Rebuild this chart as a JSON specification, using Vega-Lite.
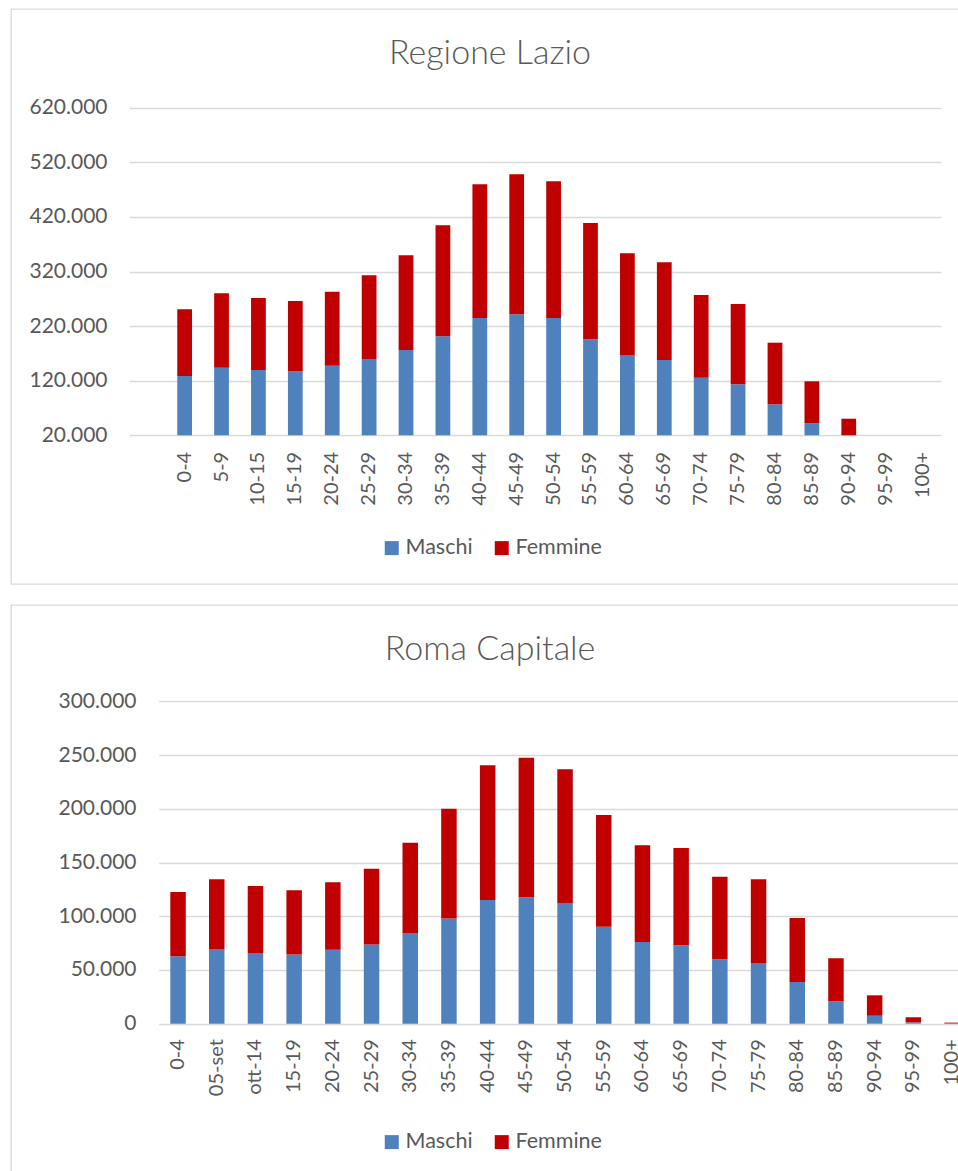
{
  "$schema": "https://vega.github.io/schema/vega-lite/v6.json",
  "padding": {"left": 10, "top": 8, "right": 0, "bottom": 0},
  "background": "white",
  "spacing": 19,
  "datasets": {
    "lazio": [
      {"eta": "0-4", "sesso": "Maschi", "n": 128600}, {"eta": "0-4", "sesso": "Femmine", "n": 122200},
      {"eta": "5-9", "sesso": "Maschi", "n": 143800}, {"eta": "5-9", "sesso": "Femmine", "n": 136300},
      {"eta": "10-15", "sesso": "Maschi", "n": 139600}, {"eta": "10-15", "sesso": "Femmine", "n": 131900},
      {"eta": "15-19", "sesso": "Maschi", "n": 137200}, {"eta": "15-19", "sesso": "Femmine", "n": 128800},
      {"eta": "20-24", "sesso": "Maschi", "n": 147500}, {"eta": "20-24", "sesso": "Femmine", "n": 135500},
      {"eta": "25-29", "sesso": "Maschi", "n": 159700}, {"eta": "25-29", "sesso": "Femmine", "n": 153300},
      {"eta": "30-34", "sesso": "Maschi", "n": 176200}, {"eta": "30-34", "sesso": "Femmine", "n": 173500},
      {"eta": "35-39", "sesso": "Maschi", "n": 201300}, {"eta": "35-39", "sesso": "Femmine", "n": 203300},
      {"eta": "40-44", "sesso": "Maschi", "n": 234800}, {"eta": "40-44", "sesso": "Femmine", "n": 244900},
      {"eta": "45-49", "sesso": "Maschi", "n": 241600}, {"eta": "45-49", "sesso": "Femmine", "n": 256400},
      {"eta": "50-54", "sesso": "Maschi", "n": 234800}, {"eta": "50-54", "sesso": "Femmine", "n": 250400},
      {"eta": "55-59", "sesso": "Maschi", "n": 195800}, {"eta": "55-59", "sesso": "Femmine", "n": 213000},
      {"eta": "60-64", "sesso": "Maschi", "n": 167100}, {"eta": "60-64", "sesso": "Femmine", "n": 186200},
      {"eta": "65-69", "sesso": "Maschi", "n": 157900}, {"eta": "65-69", "sesso": "Femmine", "n": 178900},
      {"eta": "70-74", "sesso": "Maschi", "n": 125500}, {"eta": "70-74", "sesso": "Femmine", "n": 151500},
      {"eta": "75-79", "sesso": "Maschi", "n": 113400}, {"eta": "75-79", "sesso": "Femmine", "n": 147100},
      {"eta": "80-84", "sesso": "Maschi", "n": 76800}, {"eta": "80-84", "sesso": "Femmine", "n": 112800},
      {"eta": "85-89", "sesso": "Maschi", "n": 42000}, {"eta": "85-89", "sesso": "Femmine", "n": 76900},
      {"eta": "90-94", "sesso": "Maschi", "n": 12000}, {"eta": "90-94", "sesso": "Femmine", "n": 38400},
      {"eta": "95-99", "sesso": "Maschi", "n": 2000}, {"eta": "95-99", "sesso": "Femmine", "n": 7000},
      {"eta": "100+", "sesso": "Maschi", "n": 300}, {"eta": "100+", "sesso": "Femmine", "n": 1200}
    ],
    "roma": [
      {"eta": "0-4", "sesso": "Maschi", "n": 62700}, {"eta": "0-4", "sesso": "Femmine", "n": 59800},
      {"eta": "05-set", "sesso": "Maschi", "n": 69500}, {"eta": "05-set", "sesso": "Femmine", "n": 64900},
      {"eta": "ott-14", "sesso": "Maschi", "n": 65800}, {"eta": "ott-14", "sesso": "Femmine", "n": 62300},
      {"eta": "15-19", "sesso": "Maschi", "n": 64500}, {"eta": "15-19", "sesso": "Femmine", "n": 59600},
      {"eta": "20-24", "sesso": "Maschi", "n": 68900}, {"eta": "20-24", "sesso": "Femmine", "n": 62700},
      {"eta": "25-29", "sesso": "Maschi", "n": 73800}, {"eta": "25-29", "sesso": "Femmine", "n": 70400},
      {"eta": "30-34", "sesso": "Maschi", "n": 84400}, {"eta": "30-34", "sesso": "Femmine", "n": 84000},
      {"eta": "35-39", "sesso": "Maschi", "n": 98000}, {"eta": "35-39", "sesso": "Femmine", "n": 102100},
      {"eta": "40-44", "sesso": "Maschi", "n": 115100}, {"eta": "40-44", "sesso": "Femmine", "n": 125300},
      {"eta": "45-49", "sesso": "Maschi", "n": 117600}, {"eta": "45-49", "sesso": "Femmine", "n": 129900},
      {"eta": "50-54", "sesso": "Maschi", "n": 112300}, {"eta": "50-54", "sesso": "Femmine", "n": 124400},
      {"eta": "55-59", "sesso": "Maschi", "n": 90300}, {"eta": "55-59", "sesso": "Femmine", "n": 103900},
      {"eta": "60-64", "sesso": "Maschi", "n": 76000}, {"eta": "60-64", "sesso": "Femmine", "n": 90000},
      {"eta": "65-69", "sesso": "Maschi", "n": 72900}, {"eta": "65-69", "sesso": "Femmine", "n": 90600},
      {"eta": "70-74", "sesso": "Maschi", "n": 59900}, {"eta": "70-74", "sesso": "Femmine", "n": 76900},
      {"eta": "75-79", "sesso": "Maschi", "n": 56500}, {"eta": "75-79", "sesso": "Femmine", "n": 77900},
      {"eta": "80-84", "sesso": "Maschi", "n": 38800}, {"eta": "80-84", "sesso": "Femmine", "n": 59600},
      {"eta": "85-89", "sesso": "Maschi", "n": 20800}, {"eta": "85-89", "sesso": "Femmine", "n": 40100},
      {"eta": "90-94", "sesso": "Maschi", "n": 7400}, {"eta": "90-94", "sesso": "Femmine", "n": 19000},
      {"eta": "95-99", "sesso": "Maschi", "n": 1300}, {"eta": "95-99", "sesso": "Femmine", "n": 4700},
      {"eta": "100+", "sesso": "Maschi", "n": 200}, {"eta": "100+", "sesso": "Femmine", "n": 800}
    ]
  },
  "vconcat": [
    {
      "data": {"name": "lazio"},
      "width": 958,
      "height": 575,
      "title": {"text": "Regione Lazio", "offset": -89, "baseline": "alphabetic", "frame": "group", "anchor": "middle", "fontSize": 34, "font": "Lato", "fontWeight": 300, "color": "#595959"},
      "mark": {"type": "bar"},
      "encoding": {
        "x": {
          "field": "eta", "type": "nominal", "sort": null,
          "scale": {"domain": ["", "0-4", "5-9", "10-15", "15-19", "20-24", "25-29", "30-34", "35-39", "40-44", "45-49", "50-54", "55-59", "60-64", "65-69", "70-74", "75-79", "80-84", "85-89", "90-94", "95-99", "100+"], "range": [118.3, 930], "paddingInner": 0.6, "paddingOuter": 0.3},
          "axis": {"title": null, "labelAngle": -90, "offset": -148.7, "labelPadding": 16, "domain": false, "ticks": false, "grid": false, "labelOverlap": false}
        },
        "y": {
          "field": "n", "type": "quantitative", "stack": "zero",
          "scale": {"domain": [20000, 620000], "range": [426.3, 98.7], "clamp": true, "nice": false, "zero": false},
          "axis": {"title": null, "values": [20000, 120000, 220000, 320000, 420000, 520000, 620000], "offset": -96, "labelPadding": 0, "labelFontSize": 21, "domain": false, "ticks": false, "grid": true, "labelExpr": "replace(format(datum.value, ','), ',', '.')"}
        },
        "color": {
          "field": "sesso", "type": "nominal",
          "scale": {"domain": ["Maschi", "Femmine"], "range": ["#4F81BD", "#C00000"]},
          "legend": {"title": null, "orient": "none", "legendX": 370, "legendY": 528, "direction": "horizontal"}
        },
        "order": {"field": "sesso", "sort": "descending"}
      }
    },
    {
      "data": {"name": "roma"},
      "width": 958,
      "height": 575,
      "title": {"text": "Roma Capitale", "offset": -89, "baseline": "alphabetic", "frame": "group", "anchor": "middle", "fontSize": 34, "font": "Lato", "fontWeight": 300, "color": "#595959"},
      "mark": {"type": "bar"},
      "encoding": {
        "x": {
          "field": "eta", "type": "nominal", "sort": null,
          "scale": {"domain": ["0-4", "05-set", "ott-14", "15-19", "20-24", "25-29", "30-34", "35-39", "40-44", "45-49", "50-54", "55-59", "60-64", "65-69", "70-74", "75-79", "80-84", "85-89", "90-94", "95-99", "100+"], "range": [147.7, 960.4], "paddingInner": 0.6, "paddingOuter": 0.3},
          "axis": {"title": null, "labelAngle": -90, "offset": -156.3, "labelPadding": 15, "domain": false, "ticks": false, "grid": false, "labelOverlap": false}
        },
        "y": {
          "field": "n", "type": "quantitative", "stack": "zero",
          "scale": {"domain": [0, 300000], "range": [418.7, 96.3], "clamp": true, "nice": false, "zero": false},
          "axis": {"title": null, "values": [0, 50000, 100000, 150000, 200000, 250000, 300000], "offset": -125, "labelPadding": 0, "labelFontSize": 21, "domain": false, "ticks": false, "grid": true, "labelExpr": "replace(format(datum.value, ','), ',', '.')"}
        },
        "color": {
          "field": "sesso", "type": "nominal",
          "scale": {"domain": ["Maschi", "Femmine"], "range": ["#4F81BD", "#C00000"]},
          "legend": {"title": null, "orient": "none", "legendX": 370, "legendY": 526, "direction": "horizontal"}
        },
        "order": {"field": "sesso", "sort": "descending"}
      }
    }
  ],
  "resolve": {
    "scale": {"x": "independent", "y": "independent", "color": "independent"},
    "legend": {"color": "independent"},
    "axis": {"x": "independent", "y": "independent"}
  },
  "config": {
    "font": "Lato",
    "view": {"stroke": "#d9d9d9", "strokeWidth": 1.3},
    "axis": {"labelFont": "Lato", "labelFontSize": 20, "labelColor": "#595959", "gridColor": "#d9d9d9", "gridWidth": 1.3, "gridOpacity": 1},
    "legend": {"labelFont": "Lato", "labelFontSize": 21.5, "labelColor": "#595959", "symbolType": "square", "symbolSize": 196, "symbolStrokeWidth": 0, "labelOffset": 3, "columnPadding": 18, "padding": 0}
  }
}
